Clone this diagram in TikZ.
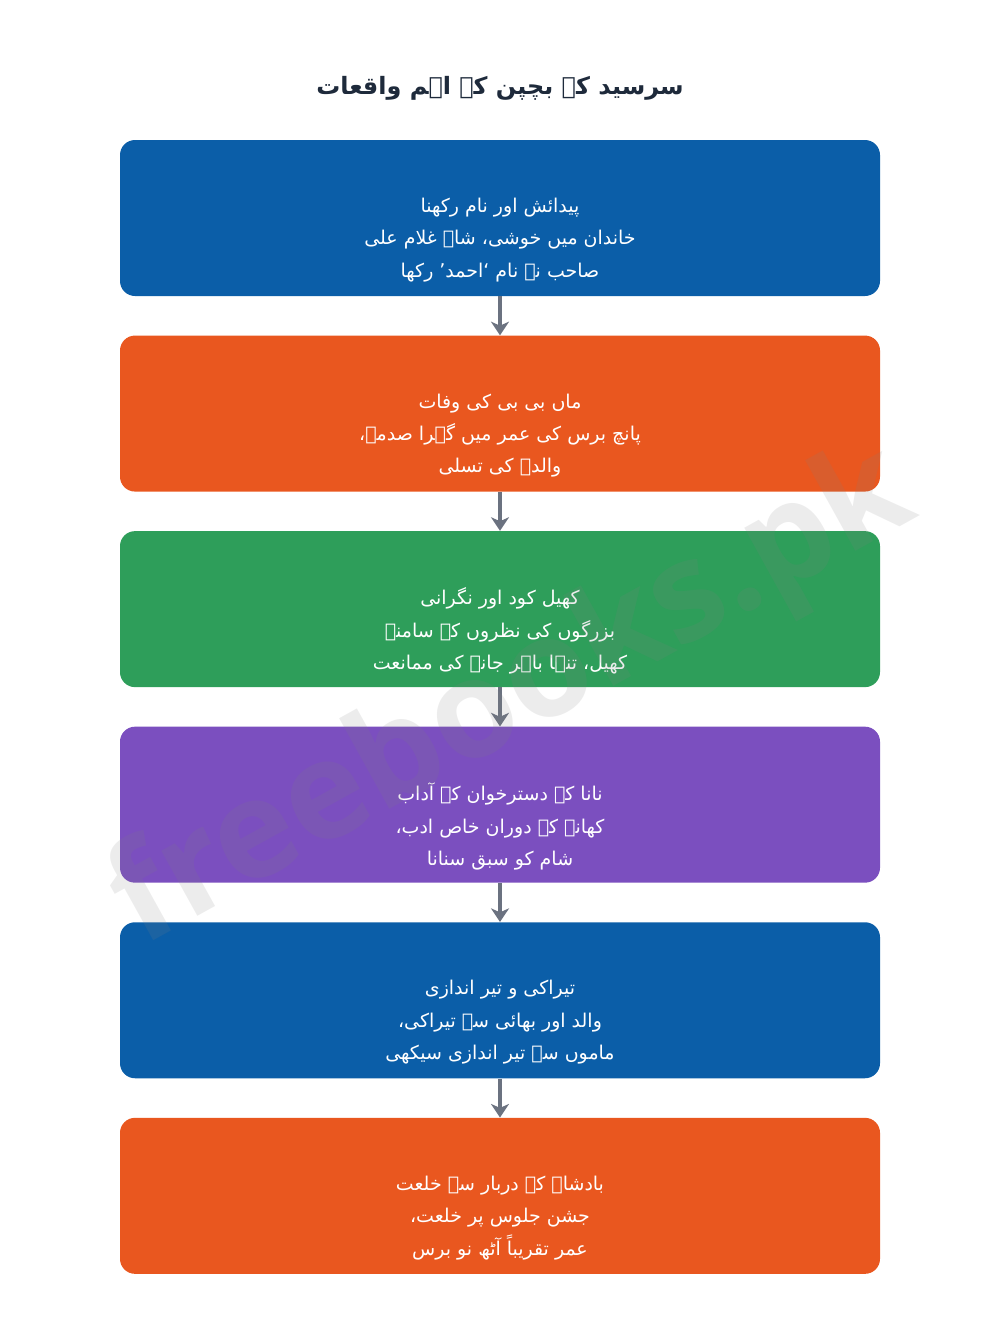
\documentclass[tikz,border=0pt]{standalone}
\usepackage{fontspec}
\usetikzlibrary{positioning,arrows.meta}
\TeXXeTstate=1
\newfontfamily\urdufont[Script=Arabic]{DejaVu Sans}
\newfontfamily\markfont{Open Sans}
\newcommand\ur[1]{\beginR #1\endR}
\newcommand\boxw{19cm}
\newcommand\boxh{3.9cm}
\newcommand\gapy{0.975cm}
\newcommand\drop{0.55cm}
\definecolor{evblue}{HTML}{0B5EA8}
\definecolor{evorange}{HTML}{E9571F}
\definecolor{evgreen}{HTML}{2E9E5A}
\definecolor{evpurple}{HTML}{7B4FBF}
\definecolor{linkgray}{HTML}{6B7280}
\definecolor{titleink}{HTML}{1E2A3B}

\begin{document}
\begin{tikzpicture}[
    event/.style={rectangle, rounded corners=0.375cm, minimum width=\boxw,
      minimum height=\boxh, inner sep=0pt},
    eventtext/.style={text=white, align=center, inner sep=0pt,
      font=\urdufont\fontsize{13.5}{23}\selectfont},
    link/.style={linkgray, line width=2.2pt, -{Stealth[length=0.34cm, width=0.45cm, inset=0.1cm]}},
    watermark/.style={text=gray, opacity=0.15, rotate=29,
      font=\markfont\bfseries\fontsize{97}{97}\selectfont}
  ]
  \useasboundingbox (0,0) rectangle (25,-33.25);

  % title
  \node[text=titleink, font=\urdufont\bfseries\fontsize{17}{22}\selectfont] (title) at (12.5,-2.2)
    {\ur{سرسید کے بچپن کے اہم واقعات}};

  % boxes
  \node[event, fill=evblue] (e1) at (12.5,-5.45) {};
  \node[event, fill=evorange, below=\gapy of e1] (e2) {};
  \node[event, fill=evgreen, below=\gapy of e2] (e3) {};
  \node[event, fill=evpurple, below=\gapy of e3] (e4) {};
  \node[event, fill=evblue, below=\gapy of e4] (e5) {};
  \node[event, fill=evorange, below=\gapy of e5] (e6) {};

  % box texts
  \node[eventtext] (t1) at ([yshift=-\drop]e1.center)
    {\ur{پیدائش اور نام رکھنا}\\ \ur{خاندان میں خوشی، شاہ غلام علی}\\ \ur{صاحب نے نام ‘احمد’ رکھا}};
  \node[eventtext] (t2) at ([yshift=-\drop]e2.center)
    {\ur{ماں بی بی کی وفات}\\ \ur{پانچ برس کی عمر میں گہرا صدمہ،}\\ \ur{والدہ کی تسلی}};
  \node[eventtext] (t3) at ([yshift=-\drop]e3.center)
    {\ur{کھیل کود اور نگرانی}\\ \ur{بزرگوں کی نظروں کے سامنے}\\ \ur{کھیل، تنہا باہر جانے کی ممانعت}};
  \node[eventtext] (t4) at ([yshift=-\drop]e4.center)
    {\ur{نانا کے دسترخوان کے آداب}\\ \ur{کھانے کے دوران خاص ادب،}\\ \ur{شام کو سبق سنانا}};
  \node[eventtext] (t5) at ([yshift=-\drop]e5.center)
    {\ur{تیراکی و تیر اندازی}\\ \ur{والد اور بھائی سے تیراکی،}\\ \ur{ماموں سے تیر اندازی سیکھی}};
  \node[eventtext] (t6) at ([yshift=-\drop]e6.center)
    {\ur{بادشاہ کے دربار سے خلعت}\\ \ur{جشن جلوس پر خلعت،}\\ \ur{عمر تقریباً آٹھ نو برس}};

  % connectors
  \foreach \a/\b in {e1/e2, e2/e3, e3/e4, e4/e5, e5/e6}
    \draw[link] (\a.south) -- (\b.north);

  \node[watermark] (wm) at (12.85,-17.5) {freebooks.pk};
\end{tikzpicture}
\end{document}
